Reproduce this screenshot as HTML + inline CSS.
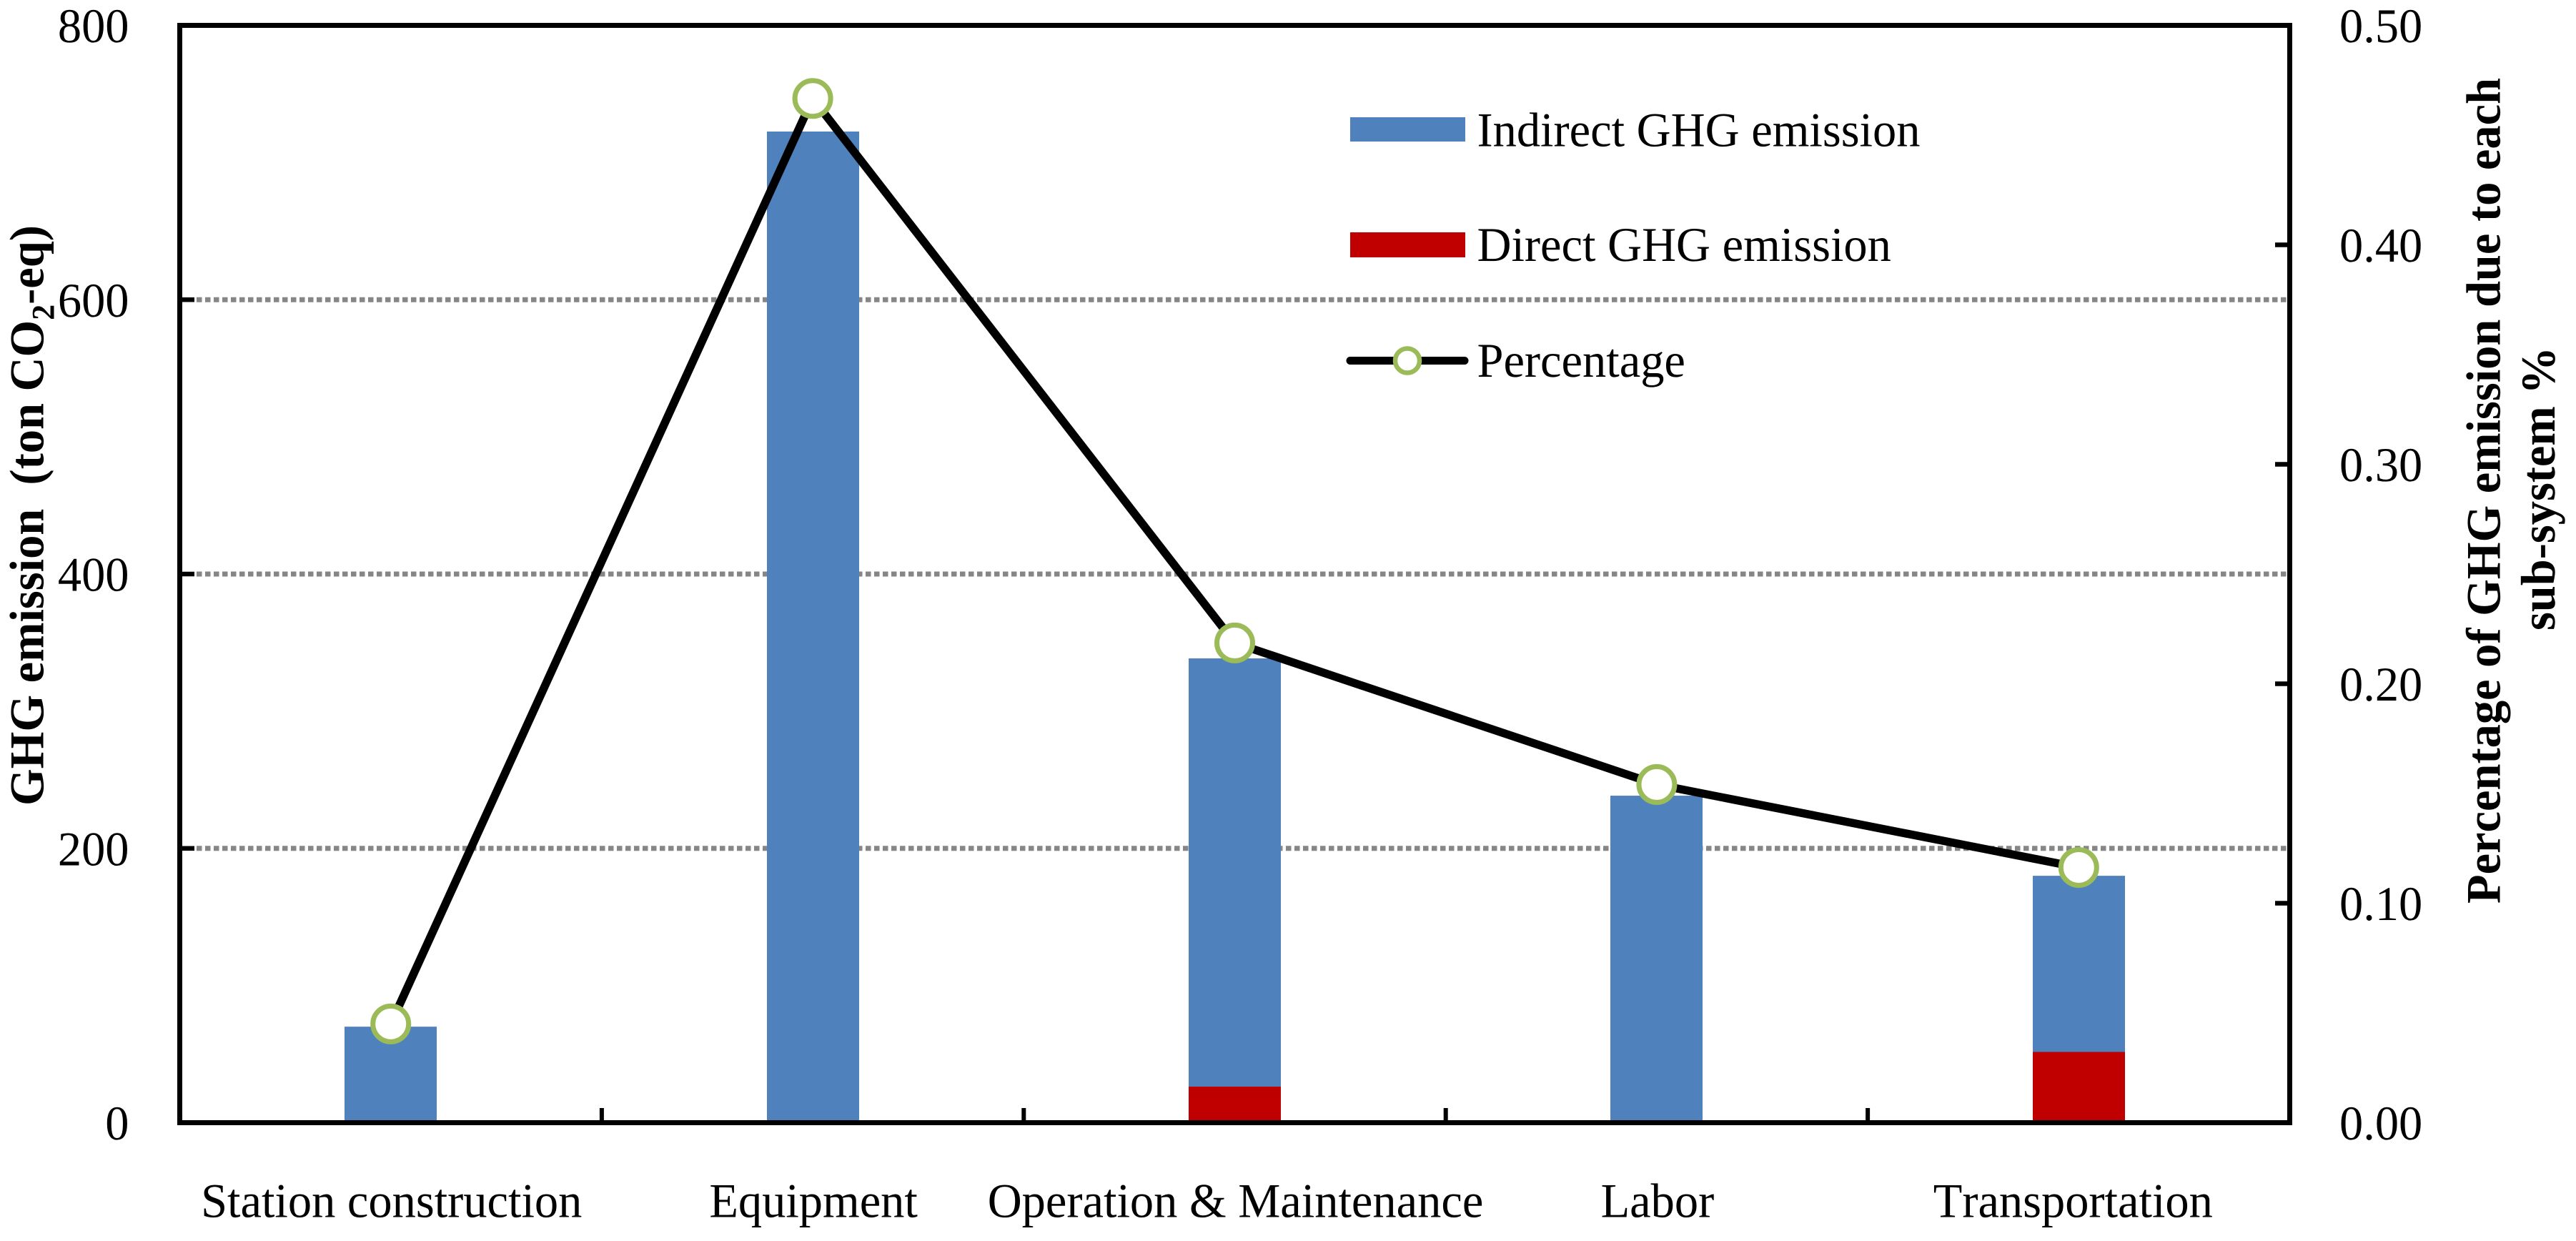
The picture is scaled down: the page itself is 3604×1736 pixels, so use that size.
<!DOCTYPE html>
<html lang="en">
<head>
<meta charset="utf-8">
<title>GHG emission by sub-system</title>
<style>
  html, body { margin: 0; padding: 0; background: #fff; }
  svg { display: block; }
  text { font-family: "Liberation Serif", "Times New Roman", serif; fill: #000; text-rendering: geometricPrecision; font-kerning: none; white-space: pre; }
</style>
</head>
<body>
<svg id="chart" xmlns="http://www.w3.org/2000/svg" width="3604" height="1736" viewBox="0 0 3604 1736">
  <rect x="0" y="0" width="3604" height="1736" fill="#ffffff"/>
  <g id="grid-layer"></g>
  <g id="bar-layer"></g>
  <g id="line-layer"></g>
  <rect x="251.5" y="35.5" width="2952" height="1535" fill="none" stroke="#000" stroke-width="7"/>
  <g id="tick-layer"></g>
  <g id="label-layer"></g>

  <text transform="translate(60.7,1127) rotate(-90) scale(0.977,1)" font-size="68" font-weight="bold">GHG emission  (ton CO<tspan font-size="45" dy="15">2</tspan><tspan dy="-15">-eq)</tspan></text>
  <text transform="translate(3497.5,1264) rotate(-90) scale(0.977,1)" font-size="68" font-weight="bold">Percentage of GHG emission due to each</text>
  <text transform="translate(3574,882) rotate(-90) scale(0.977,1)" font-size="68" font-weight="bold">sub-system %</text>

  <g>
    <g>
      <rect x="1889" y="164" width="161" height="34" fill="#4F81BD"/>
      <text transform="translate(2066.5,204.7) scale(0.977,1)" font-size="68">Indirect GHG emission</text>
    </g>
    <g>
      <rect x="1889" y="325" width="161" height="35" fill="#C00000"/>
      <text transform="translate(2066.5,365) scale(0.977,1)" font-size="68">Direct GHG emission</text>
    </g>
    <g>
      <line x1="1889" y1="504.5" x2="2049" y2="504.5" stroke="#000" stroke-width="11" stroke-linecap="round"/>
      <circle cx="1969" cy="504.5" r="17" fill="#fff" stroke="#9BBB59" stroke-width="6.5"/>
      <text transform="translate(2066.5,527) scale(0.977,1)" font-size="68">Percentage</text>
    </g>
  </g>
</svg>

<script>
// ---- chart data ----
const categories = ["Station construction", "Equipment", "Operation & Maintenance", "Labor", "Transportation"];
const indirectEmission = [70, 722.6, 312.2, 238.4, 128.4];
const directEmission = [0, 0, 26.3, 0, 51.6];
const percentage = [0.045, 0.4667, 0.2186, 0.1541, 0.1163];
const leftTicks = [0, 200, 400, 600, 800];
const rightTicks = [0, 0.1, 0.2, 0.3, 0.4, 0.5];
const leftTickLabels = ["0", "200", "400", "600", "800"];
const rightTickLabels = ["0.00", "0.10", "0.20", "0.30", "0.40", "0.50"];

// ---- geometry and axis functions ----
const NS = "http://www.w3.org/2000/svg";
const plotLeft = 251.5, plotRight = 3203.5, plotTop = 35.5, plotBottom = 1570.5;
const leftMax = leftTicks[leftTicks.length - 1];
const rightMax = rightTicks[rightTicks.length - 1];
const barWidth = 129;
const bandWidth = (plotRight - plotLeft) / categories.length;

function xBand(i) { return plotLeft + (i + 0.5) * bandWidth; }
function xEdge(i) { return plotLeft + i * bandWidth; }
function yLeft(v) { return plotBottom - (v / leftMax) * (plotBottom - plotTop); }
function yRight(v) { return plotBottom - (v / rightMax) * (plotBottom - plotTop); }

function make(tag, attrs, parent) {
  const el = document.createElementNS(NS, tag);
  for (const k in attrs) el.setAttribute(k, attrs[k]);
  parent.appendChild(el);
  return el;
}

const gridLayer = document.getElementById("grid-layer");
const barLayer = document.getElementById("bar-layer");
const lineLayer = document.getElementById("line-layer");
const tickLayer = document.getElementById("tick-layer");
const labelLayer = document.getElementById("label-layer");

// gridlines (interior left-axis ticks only)
leftTicks.forEach(function (t) {
  if (t === 0 || t === leftMax) return;
  const el = make("line", { x1: 275, x2: 3198.5, y1: yLeft(t), y2: yLeft(t), stroke: "#868686", "stroke-width": 7, "stroke-dasharray": "7.5 4.5" }, gridLayer);
  
  
});

// stacked bars: direct at the bottom, indirect on top
categories.forEach(function (c, i) {
  const left = Math.round(xBand(i) - barWidth / 2);
  const direct = directEmission[i];
  const total = direct + indirectEmission[i];
  const top = yLeft(total);
  const mid = yLeft(direct);
  const ind = make("rect", { x: left, y: top, width: barWidth, height: mid - top, fill: "#4F81BD" }, barLayer);
  
  
  if (direct > 0) {
    const dir = make("rect", { x: left, y: mid, width: barWidth, height: plotBottom - mid, fill: "#C00000" }, barLayer);
    
    
  }
});

// percentage line and markers
const pts = percentage.map(function (p, i) { return xBand(i) + "," + yRight(p); }).join(" ");
const poly = make("polyline", { points: pts, fill: "none", stroke: "#000", "stroke-width": 11.5, "stroke-linejoin": "round" }, lineLayer);


percentage.forEach(function (p, i) {
  const m = make("circle", { cx: xBand(i), cy: yRight(p), r: 25, fill: "#fff", stroke: "#9BBB59", "stroke-width": 7 }, lineLayer);
  
  
});

// ticks
leftTicks.forEach(function (t) {
  if (t === 0 || t === leftMax) return;
  const el = make("line", { x1: 255, x2: 272, y1: yLeft(t), y2: yLeft(t), stroke: "#000", "stroke-width": 6.5 }, tickLayer);
  
  
});
rightTicks.forEach(function (t) {
  if (t === 0 || t === rightMax) return;
  const el = make("line", { x1: 3183, x2: 3200, y1: yRight(t), y2: yRight(t), stroke: "#000", "stroke-width": 6.5 }, tickLayer);
  
  
});
categories.forEach(function (c, i) {
  if (i === 0) return;
  const el = make("line", { x1: xEdge(i), x2: xEdge(i), y1: 1550, y2: 1567, stroke: "#000", "stroke-width": 6 }, tickLayer);
  
  
});

// tick labels
function addLabel(str, x, y, anchor) {
  const el = make("text", { transform: "translate(" + x + "," + y + ") scale(0.977,1)", "font-size": 68, "text-anchor": anchor }, labelLayer);
  el.textContent = str;
  return el;
}
leftTicks.forEach(function (t, i) {
  const el = addLabel(leftTickLabels[i], 180.5, yLeft(t) + 23.5, "end");
  
  
});
rightTicks.forEach(function (t, i) {
  const el = addLabel(rightTickLabels[i], 3273, yRight(t) + 23.5, "start");
  
  
});
categories.forEach(function (c, i) {
  const lastShift = i === categories.length - 1 ? -8 : 1;
  const el = addLabel(c, xBand(i) + lastShift, 1702.7, "middle");
  
  
});
</script>
</body>
</html>
